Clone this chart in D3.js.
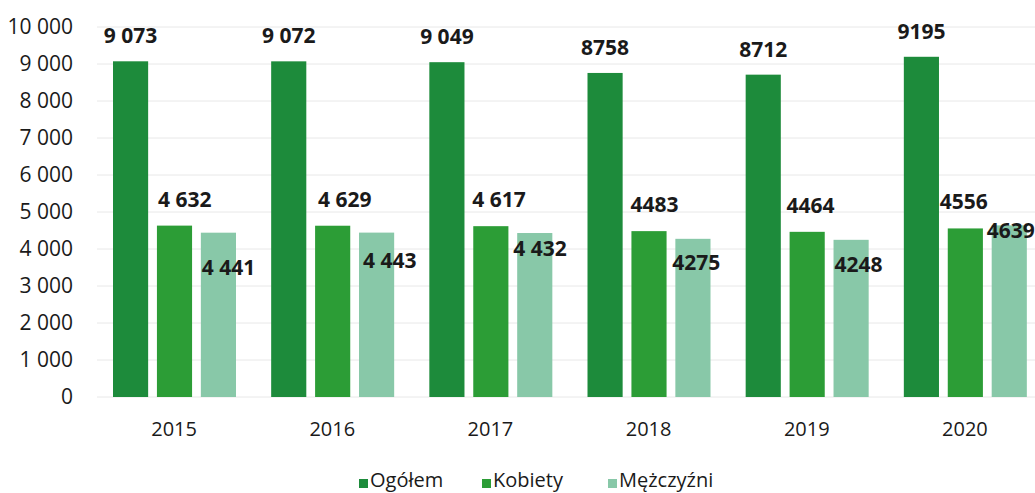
<!DOCTYPE html>
<html>
<head>
<meta charset="utf-8">
<script src="https://cdn.jsdelivr.net/npm/d3@7"></script>
<style>
  body { margin: 0; background: #fff; }
  svg { display: block; font-family: 'Open Sans', sans-serif; }
</style>
</head>
<body>
<div id="chart"></div>
<script>
const years = ['2015', '2016', '2017', '2018', '2019', '2020'];
const seriesNames = ['Ogółem', 'Kobiety', 'Mężczyźni'];
const ogolem = [9073, 9072, 9049, 8758, 8712, 9195];
const kobiety = [4632, 4629, 4617, 4483, 4464, 4556];
const mezczyzni = [4441, 4443, 4432, 4275, 4248, 4639];
// labels exactly as printed (mixed formatting in the original)
const ogolemLabels = ['9 073', '9 072', '9 049', '8758', '8712', '9195'];
const kobietyLabels = ['4 632', '4 629', '4 617', '4483', '4464', '4556'];
const mezczyzniLabels = ['4 441', '4 443', '4 432', '4275', '4248', '4639'];
const yTicks = [0, 1000, 2000, 3000, 4000, 5000, 6000, 7000, 8000, 9000, 10000];

const Width = 1035;
const Height = 493;
const colors = ['#1d8b3b', '#2c9d36', '#88c8a8'];
// hand-placed label nudges in the original (px)
const womenLabelDx = [1, 3, -1, -1, -3, -8];
const menLabelDx = [1, 4, -4, -3, 1, -5];
const menLabelDy = [42, 35, 23, 31, 32, 13];

const svg = d3.select('#chart')
  .append('svg')
  .attr('width', Width)
  .attr('height', Height);

const y = d3.scaleLinear()
  .domain([0, 10000])
  .range([397, 27]);

const x = d3.scaleBand()
  .domain(years)
  .range([95, 1044]);

const inner = d3.scaleBand()
  .domain(seriesNames)
  .range([18, 141])
  .paddingInner(0.2);

// gridlines
svg.append('g')
  .selectAll('line')
  .data(yTicks)
  .enter()
  .append('line')
  .attr('x1', 97)
  .attr('x2', Width)
  .attr('y1', d => y(d))
  .attr('y2', d => y(d))
  .attr('stroke', '#e8e8e8')
  .attr('stroke-width', 1);

// y axis
const fmt = d => d3.format(',')(d).replace(/,/g, ' ');
const yAxis = svg.append('g')
  .attr('transform', 'translate(80, 0)')
  .call(d3.axisLeft(y).tickValues(yTicks).tickFormat(fmt).tickSize(0).tickPadding(7));
yAxis.select('.domain').remove();
yAxis.selectAll('text')
  .attr('font-size', 21)
  .attr('font-family', 'Open Sans, sans-serif')
  .attr('fill', '#1a1a1a');

// x axis
const xAxis = svg.append('g')
  .attr('transform', 'translate(0, 412)')
  .call(d3.axisBottom(x).tickSize(0).tickPadding(10));
xAxis.select('.domain').remove();
xAxis.selectAll('text')
  .attr('font-size', 20)
  .attr('font-family', 'Open Sans, sans-serif')
  .attr('fill', '#1a1a1a');

const series = [ogolem, kobiety, mezczyzni];
const labels = [ogolemLabels, kobietyLabels, mezczyzniLabels];

series.forEach((vals, si) => {
  const name = seriesNames[si];
  svg.append('g')
    .selectAll('rect')
    .data(vals)
    .enter()
    .append('rect')
    .attr('x', (d, i) => x(years[i]) + inner(name))
    .attr('y', d => y(d))
    .attr('width', inner.bandwidth())
    .attr('height', d => y(0) - y(d))
    .attr('fill', colors[si]);

  svg.append('g')
    .selectAll('text')
    .data(vals)
    .enter()
    .append('text')
    .attr('x', (d, i) => {
      const bx = x(years[i]) + inner(name);
      if (si === 0) return bx + inner.bandwidth() / 2;
      if (si === 1) return bx + womenLabelDx[i];
      return bx + menLabelDx[i];
    })
    .attr('y', (d, i) => {
      if (si === 2) return y(d) + menLabelDy[i];
      if (si === 1) return y(d) - 19;
      return y(d) - 18;
    })
    .attr('text-anchor', si === 0 ? 'middle' : 'start')
    .attr('font-size', 21)
    .attr('font-weight', 'bold')
    .attr('fill', '#1a1a1a')
    .text((d, i) => labels[si][i]);
});

// legend
const legendX = [359, 482, 608];
const legend = svg.append('g');
seriesNames.forEach((name, i) => {
  legend.append('rect')
    .attr('x', legendX[i])
    .attr('y', 479)
    .attr('width', 9)
    .attr('height', 9)
    .attr('fill', colors[i]);
  legend.append('text')
    .attr('x', legendX[i] + 11)
    .attr('y', 487)
    .attr('font-size', 20)
    .attr('fill', '#1a1a1a')
    .text(name);
});
</script>
</body>
</html>
